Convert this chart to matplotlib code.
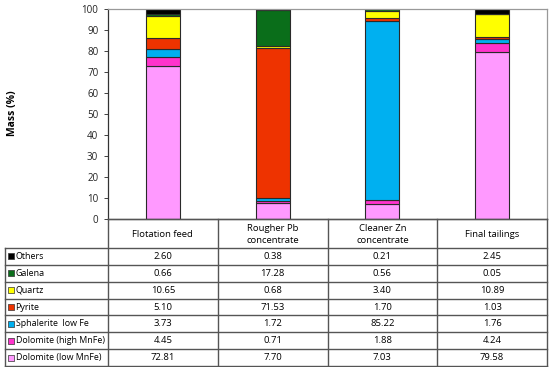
import numpy as np
import matplotlib
matplotlib.use('Agg')
import matplotlib.pyplot as plt

plt.rcParams['font.family'] = ['Open Sans', 'DejaVu Sans']

# data
samples = ['Flotation feed', 'Rougher Pb\nconcentrate', 'Cleaner Zn\nconcentrate', 'Final tailings']
minerals = ['Dolomite (low MnFe)', 'Dolomite (high MnFe)', 'Sphalerite  low Fe', 'Pyrite', 'Quartz', 'Galena', 'Others']
dol_low = [72.81, 7.70, 7.03, 79.58]
dol_high = [4.45, 0.71, 1.88, 4.24]
sphal = [3.73, 1.72, 85.22, 1.76]
pyrite = [5.10, 71.53, 1.70, 1.03]
quartz = [10.65, 0.68, 3.40, 10.89]
galena = [0.66, 17.28, 0.56, 0.05]
others = [2.60, 0.38, 0.21, 2.45]
colors = ['#ff99ff', '#ff33cc', '#00b0f0', '#ee3300', '#ffff00', '#0a6e1a', '#000000']

series = [dol_low, dol_high, sphal, pyrite, quartz, galena, others]

W, H = 550, 367
fig = plt.figure(figsize=(W / 100, H / 100), dpi=100)

# px coords of plot area
x0, x1 = 108, 547
ytop, ybot = 9, 219
ax = fig.add_axes([x0 / W, 1 - ybot / H, (x1 - x0) / W, (ybot - ytop) / H])

x = np.arange(len(samples))
bottom = np.zeros(len(samples))
for vals, c in zip(series, colors):
    ax.bar(x, vals, width=0.31, bottom=bottom, color=c, edgecolor='#2a2a2a', linewidth=0.8)
    bottom += np.array(vals)

ax.set_xlim(-0.5, len(samples) - 0.5)
ax.set_ylim(0, 100)
ax.set_yticks(np.arange(0, 101, 10))
ax.tick_params(axis='y', labelsize=7, length=3, width=0.6, pad=4, colors='#222222')
ax.set_xticks([])
for s in ['top', 'right']:
    ax.spines[s].set_color('#999999')
for s in ['left', 'bottom']:
    ax.spines[s].set_color('#333333')
for s in ax.spines.values():
    s.set_linewidth(0.9)
fig.text(12 / W, 1 - 113 / H, 'Mass (%)', rotation=90, fontsize=7.5, fontweight='bold',
         ha='center', va='center')

# table drawn in pixel coordinates
tab = fig.add_axes([0, 0, 1, 1])
tab.set_xlim(0, W)
tab.set_ylim(H, 0)
tab.axis('off')

col_edges = np.linspace(x0, x1, len(samples) + 1)
head_bot = 248
row_bot = 366
nrows = len(minerals)
row_h = (row_bot - head_bot) / nrows
lc = '#555555'

for xe in col_edges:
    tab.plot([xe, xe], [ybot, row_bot], color=lc, lw=1.0)
tab.plot([x0, x1], [ybot, ybot], color=lc, lw=1.0)
tab.plot([5, 5], [head_bot, row_bot], color=lc, lw=1.0)
for k in range(nrows + 1):
    yy = head_bot + k * row_h
    tab.plot([5, x1], [yy, yy], color=lc, lw=1.0)

fs = 6.8
for j, s in enumerate(samples):
    xc = (col_edges[j] + col_edges[j + 1]) / 2
    tab.text(xc, (ybot + head_bot) / 2 + 1, s, ha='center', va='center', fontsize=fs, linespacing=1.3)

# rows from top: Others down to Dolomite (low MnFe)
for k in range(nrows):
    idx = nrows - 1 - k
    yc = head_bot + (k + 0.5) * row_h
    tab.scatter([10.5], [yc], marker='s', s=13, color=colors[idx], edgecolors='#333333', linewidths=0.5)
    tab.text(15.5, yc, minerals[idx], ha='left', va='center', fontsize=6.4)
    for j in range(len(samples)):
        xc = (col_edges[j] + col_edges[j + 1]) / 2
        tab.text(xc, yc, '%.2f' % series[idx][j], ha='center', va='center', fontsize=fs)

fig.savefig('out.png', dpi=100)
